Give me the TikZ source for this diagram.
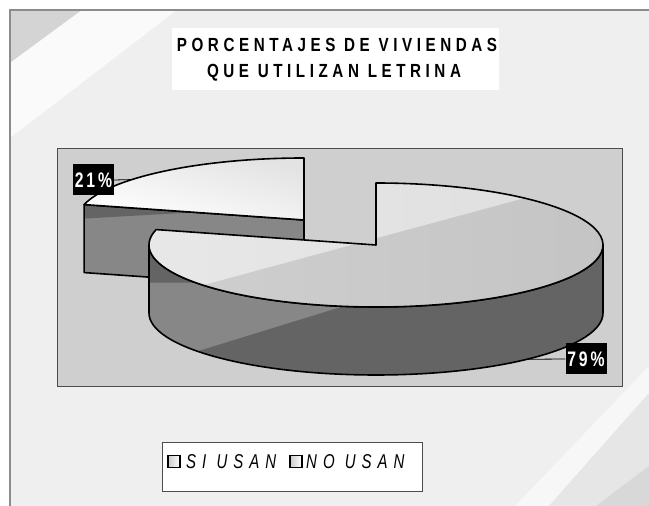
\documentclass[tikz,border=0pt]{standalone}
\usepackage{fontspec}
\setmainfont{Liberation Sans}
\newfontfamily\titlefont[FakeStretch=0.8,LetterSpace=24]{Liberation Sans}
\newfontfamily\legendfont[FakeStretch=0.75,LetterSpace=30]{Liberation Sans}
\newfontfamily\pctfont[FakeStretch=0.75,LetterSpace=14]{Liberation Sans}
\usetikzlibrary{calc}

\definecolor{bgGray}{HTML}{EFEFEF}
\definecolor{cornerGray}{HTML}{D4D4D4}
\definecolor{stripeGray}{HTML}{E6E6E6}
\definecolor{stripeDark}{HTML}{D8D8D8}
\definecolor{plotGray}{HTML}{CFCFCF}
\definecolor{sideLight}{HTML}{878787}
\definecolor{sideDark}{HTML}{646464}
\definecolor{topLight}{HTML}{DEDEDE}
\definecolor{topMid}{HTML}{C4C4C4}

\begin{document}
\begin{tikzpicture}[x=1pt,y=1pt,
    pieline/.style={draw=black,line width=1.6pt,line join=round},
    pctlabel/.style={fill=black,text=white,font=\pctfont\bfseries\fontsize{21}{21}\selectfont,
        minimum width=41pt,minimum height=31pt,inner sep=0pt},
    legkey/.style={draw=black,line width=1.4pt,left color=gray!40,right color=white,
        minimum size=12pt,inner sep=0pt},
    legtext/.style={font=\legendfont\itshape\fontsize{20}{20}\selectfont,anchor=west,inner sep=0pt}]
        \useasboundingbox (0,0) rectangle (649,506);

        % Chart background and frame
        \fill[white] (0,0) rectangle (649,506);
        \fill[bgGray] (10,0) rectangle (649,496);
        \fill[cornerGray] (10,496) -- (82,496) -- (10,443) -- cycle;
        \fill[white!70!bgGray] (82,496) -- (177,496) -- (10,368) -- (10,443) -- cycle;
        \fill[white!50!bgGray] (649,140) -- (649,113) -- (549,0) -- (515,0) -- cycle;
        \fill[stripeGray] (649,113) -- (549,0) -- (649,0) -- cycle;
        \fill[stripeDark] (649,40) -- (596,0) -- (649,0) -- cycle;
        \draw[gray!90,line width=1.5pt] (10,0) -- (10,496) -- (649,496);

        % Title
        \node[fill=white,minimum width=327pt,minimum height=62pt,anchor=north west] (titleBox) at (172,478) {};
        \node[font=\titlefont\bfseries\fontsize{19}{19}\selectfont] (titleLine1) at (337,461) {PORCENTAJES DE VIVIENDAS};
        \node[font=\titlefont\bfseries\fontsize{19}{19}\selectfont] (titleLine2) at (334,433) {QUE UTILIZAN LETRINA};

        % Plot area
        \filldraw[fill=plotGray,draw=gray!60!black] (57,358) rectangle (622,120);

        % Pie centres
        \coordinate (bigCenter) at (376,261);
        \coordinate (smallCenter) at (304,286);
        \coordinate (smallEdge) at ($(smallCenter)+(165.6:227 and 62)$);
        \coordinate (bigNotch) at ($(bigCenter)+(165.6:227 and 62)$);
        \coordinate (bigLeft) at ($(bigCenter)+(180:227 and 62)$);

        % Small slice (pulled out), cut face
        \fill[sideLight] (smallCenter) -- (smallEdge) -- ++(0,-68) -- ($(smallCenter)+(0,-68)$) -- cycle;
        \fill[sideDark] (smallEdge) -- ($(smallEdge)!0.5!(smallCenter)$) -- ($(smallEdge)+(0,-14)$) -- cycle;
        \draw[pieline] (smallCenter) -- (smallEdge) -- ++(0,-68) -- ($(smallCenter)+(0,-68)$) -- cycle;

        % Small slice, top face
        \shade[top color=gray!22,bottom color=white,shading angle=-15]
            (smallCenter) -- (smallEdge) arc[start angle=165.6,end angle=90,x radius=227,y radius=62] -- cycle;
        \draw[pieline] (smallCenter) -- (smallEdge) arc[start angle=165.6,end angle=90,x radius=227,y radius=62] -- cycle;

        % Big slice, side
        \fill[sideDark] (bigLeft) arc[start angle=180,end angle=360,x radius=227,y radius=62]
            -- ++(0,-68) arc[start angle=360,end angle=180,x radius=227,y radius=62] -- cycle;
        \begin{scope}
            \clip (bigLeft) arc[start angle=180,end angle=360,x radius=227,y radius=62]
                -- ++(0,-68) arc[start angle=360,end angle=180,x radius=227,y radius=62] -- cycle;
            \fill[sideLight] (100,124.8) -- (420,223.4) -- (100,223.4) -- cycle;
        \end{scope}
        \draw[pieline] (bigLeft) arc[start angle=180,end angle=360,x radius=227,y radius=62]
            -- ++(0,-68) arc[start angle=360,end angle=180,x radius=227,y radius=62] -- cycle;

        % Big slice, top face
        \shade[left color=topMid!80!white,right color=topMid]
            (bigCenter) -- (bigNotch) arc[start angle=165.6,end angle=450,x radius=227,y radius=62] -- cycle;
        \begin{scope}
            \clip (bigCenter) -- (bigNotch) arc[start angle=165.6,end angle=450,x radius=227,y radius=62] -- cycle;
            \shade[left color=topLight!70!white,right color=topLight] (140,203.8) -- (620,333.8) -- (620,345) -- (140,345) -- cycle;
        \end{scope}
        \draw[pieline] (bigCenter) -- (bigNotch) arc[start angle=165.6,end angle=450,x radius=227,y radius=62] -- cycle;

        % Percentage labels
        \node[pctlabel] (pct21) at (93.5,326) {21\%};
        \coordinate (pct21Tip) at ($(smallCenter)+(139.3:227 and 62)$);
        \draw[black,line width=0.8pt] (pct21.east) -- (pct21Tip);

        \node[pctlabel] (pct79) at (586,147) {79\%};
        \coordinate (pct79Tip) at ($(bigCenter)+(0,-68)+(-48.3:227 and 62)$);
        \draw[black,line width=0.8pt] (pct79Tip) -- (pct79.west);

        % Legend
        \filldraw[fill=white,draw=gray!60!black] (162,64) rectangle (422,15);
        \node[legkey] (keySi) at (174,44.5) {};
        \node[legtext] (textSi) at (186,44.5) {SI USAN};
        \node[legkey] (keyNo) at (296,44.5) {};
        \node[legtext] (textNo) at (306,44.5) {NO USAN};
\end{tikzpicture}
\end{document}
